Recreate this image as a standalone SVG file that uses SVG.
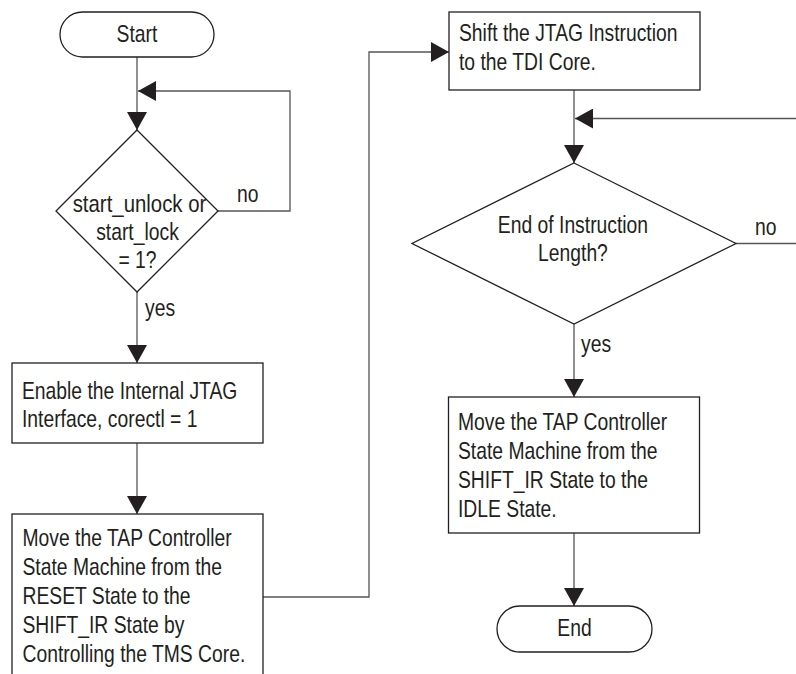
<svg xmlns="http://www.w3.org/2000/svg" width="796" height="674" viewBox="0 0 796 674">
<style>
.shape{fill:#fff;stroke:#231f20;stroke-width:1.3}
.conn{fill:none;stroke:#555;stroke-width:1.3}
text{font-family:"Liberation Sans",Arial,sans-serif;font-size:24px;fill:#231f20}
.c{text-anchor:middle}
</style>
<defs>
<marker id="ah" markerUnits="userSpaceOnUse" markerWidth="18" markerHeight="20" refX="18" refY="10" orient="auto" viewBox="0 0 18 20">
<path d="M0,0 L18,10 L0,20 z" fill="#231f20"/>
</marker>
</defs>
<rect width="796" height="674" fill="#fff"/>
<g id="connectors">
<line class="conn" x1="137" y1="57" x2="137" y2="130" marker-end="url(#ah)"/>
<path class="conn" d="M218,211 H290 V91 H138" marker-end="url(#ah)"/>
<line class="conn" x1="137" y1="292" x2="137" y2="363" marker-end="url(#ah)"/>
<line class="conn" x1="137" y1="443" x2="137" y2="514" marker-end="url(#ah)"/>
<path class="conn" d="M263,597 H369 V52 H449" marker-end="url(#ah)"/>
<line class="conn" x1="574" y1="90" x2="574" y2="163" marker-end="url(#ah)"/>
<path class="conn" d="M736,243.5 H800 V118.5 H575" marker-end="url(#ah)"/>
<line class="conn" x1="574" y1="324" x2="574" y2="397" marker-end="url(#ah)"/>
<line class="conn" x1="574" y1="533" x2="574" y2="606" marker-end="url(#ah)"/>
<g transform="matrix(0.805,0,0,1,46.2,0)"><text x="237" y="202">no</text></g>
<g transform="matrix(0.805,0,0,1,28.3,0)"><text x="145" y="316">yes</text></g>
<g transform="matrix(0.805,0,0,1,147.2,0)"><text x="755" y="235">no</text></g>
<g transform="matrix(0.805,0,0,1,113.3,0)"><text x="581" y="352">yes</text></g>
</g>
<g id="start">
<rect class="shape" x="60" y="12" width="154" height="45" rx="22.5"/>
<g transform="matrix(0.805,0,0,1,26.7,0)"><text class="c" x="137" y="42.5">Start</text></g>
</g>
<g id="check-start">
<polygon class="shape" points="137,130 218,211 137,292 56,211"/>
<g transform="matrix(0.805,0,0,1,26.8,0)">
<text class="c" x="140" y="212.5" textLength="166" lengthAdjust="spacingAndGlyphs">start_unlock or</text>
<text class="c" x="137.5" y="240.5">start_lock</text>
<text class="c" x="137.5" y="268.5">= 1?</text>
</g>
</g>
<g id="enable-jtag">
<rect class="shape" x="12" y="363" width="251" height="80"/>
<g transform="matrix(0.805,0,0,1,4.29,0)">
<text x="22" y="399">Enable the Internal JTAG</text>
<text x="22" y="427.5">Interface, corectl = 1</text>
</g>
</g>
<g id="move-reset-shift">
<rect class="shape" x="12" y="514" width="251" height="180"/>
<g transform="matrix(0.805,0,0,1,4.39,0)">
<text x="22.5" y="546.5">Move the TAP Controller</text>
<text x="22.5" y="575.5">State Machine from the</text>
<text x="22.5" y="604.2">RESET State to the</text>
<text x="22.5" y="633">SHIFT_IR State by</text>
<text x="22.5" y="661.7">Controlling the TMS Core.</text>
</g>
</g>
<g id="shift-instruction">
<rect class="shape" x="449" y="12" width="251" height="78"/>
<g transform="matrix(0.805,0,0,1,89.5,0)">
<text x="459" y="41.5">Shift the JTAG Instruction</text>
<text x="459" y="70">to the TDI Core.</text>
</g>
</g>
<g id="check-length">
<polygon class="shape" points="574,163 736,243.5 574,324 412,243.5"/>
<g transform="matrix(0.805,0,0,1,111.7,0)">
<text class="c" x="573" y="233.3">End of Instruction</text>
<text class="c" x="573" y="261">Length?</text>
</g>
</g>
<g id="move-shift-idle">
<rect class="shape" x="448.5" y="397" width="251" height="136"/>
<g transform="matrix(0.805,0,0,1,89.3,0)">
<text x="458" y="430.5">Move the TAP Controller</text>
<text x="458" y="459.3">State Machine from the</text>
<text x="458" y="488">SHIFT_IR State to the</text>
<text x="458" y="516.7">IDLE State.</text>
</g>
</g>
<g id="end">
<rect class="shape" x="497" y="606" width="155" height="46" rx="23"/>
<g transform="matrix(0.805,0,0,1,112,0)"><text class="c" x="574.5" y="636">End</text></g>
</g>
</svg>
